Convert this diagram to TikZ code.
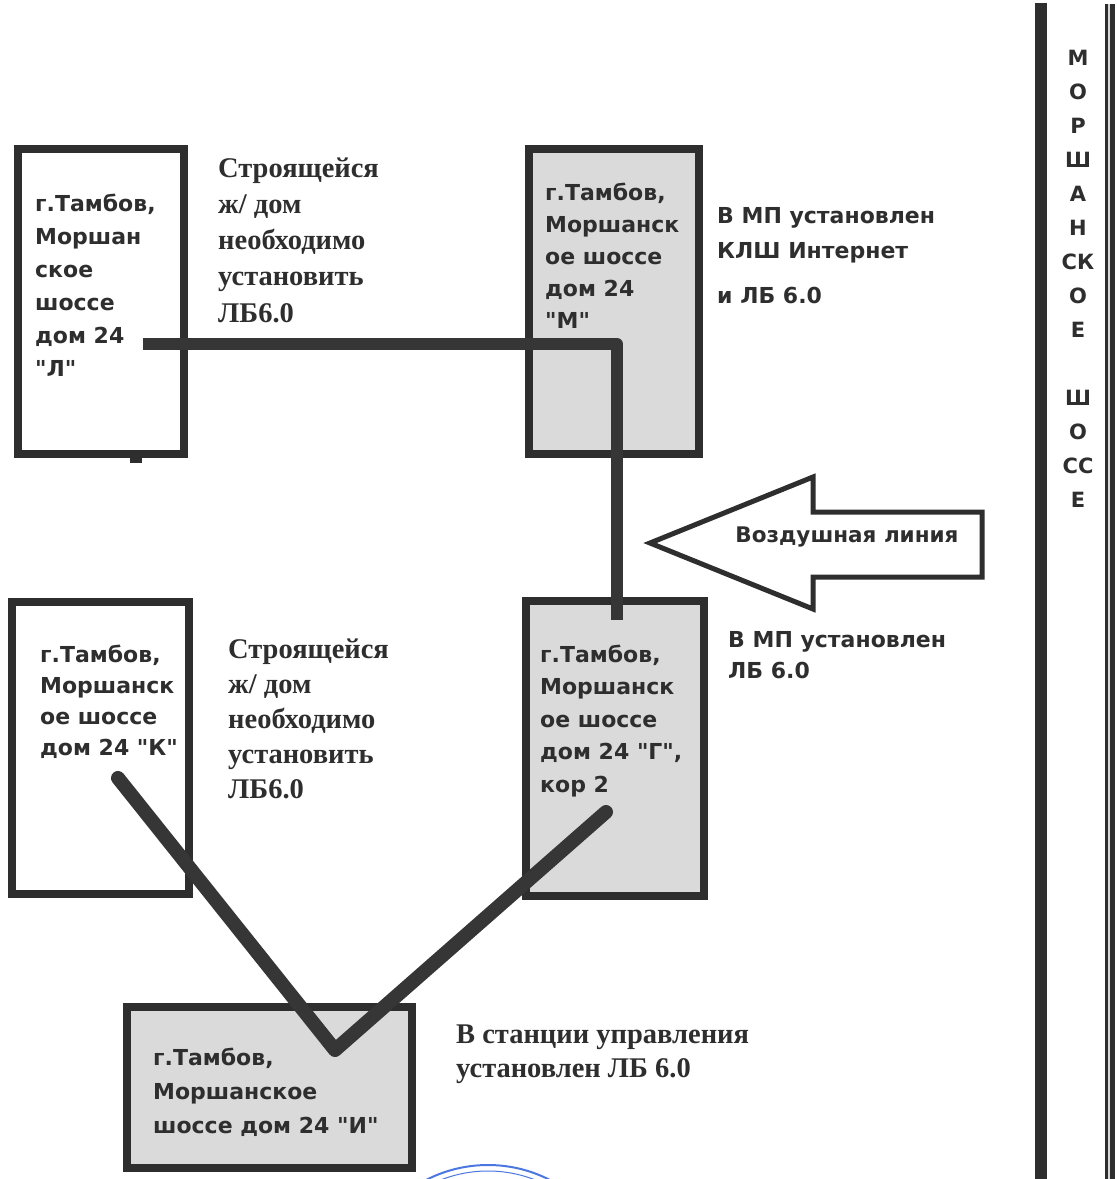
\documentclass[tikz,border=0pt]{standalone}
\usepackage{fontspec}
\newfontfamily\dvs{DejaVu Sans}
\newfontfamily\lsr{Liberation Serif}
\definecolor{ink}{HTML}{2E2E2E}
\definecolor{wirec}{HTML}{363636}
\definecolor{boxgray}{HTML}{DADADA}
\definecolor{stampblue}{HTML}{4A78E0}
\newcommand{\rows}[1]{\begin{tabular}[t]{@{}l@{}}#1\end{tabular}}
\newcommand{\crows}[1]{\begin{tabular}[t]{@{}c@{}}#1\end{tabular}}
\begin{document}
\begin{tikzpicture}[x=1pt,y=-1pt,
  box/.style={draw=ink, line width=8pt, rectangle, inner sep=0pt, outer sep=0pt},
  whitebox/.style={box, fill=white},
  graybox/.style={box, fill=boxgray},
  sans/.style={anchor=base west, inner sep=0pt, text=ink, font=\dvs\bfseries\fontsize{22}{#1}\selectfont},
  sans/.default=32.5,
  serif/.style={anchor=base west, inner sep=0pt, text=ink, font=\lsr\bfseries\fontsize{28.5}{#1}\selectfont},
  serif/.default=36,
  wire/.style={draw=wirec, line width=12pt, line join=round},
]
\useasboundingbox (0,0) rectangle (1117,1179);
\fill[white] (0,0) rectangle (1117,1179);

% stamp fragment
\begin{scope}
\clip (0,0) rectangle (1117,1179);
\draw[stampblue, line width=2pt] (488,1300) circle (135);
\draw[stampblue, line width=1pt] (488,1300) circle (129);
\end{scope}

% road lines
\draw[ink, line width=12pt] (1041,3) -- (1041,1179);
\draw[ink, line width=10pt] (1110,4) -- (1110,1179);
\draw[white!70!gray, line width=1.2pt] (1109,4) -- (1109,1179);

% boxes
\node[whitebox, minimum width=166pt, minimum height=305pt] (L) at (101,301.5) {};
\fill[ink] (130,456) rectangle (142,463);
\node[graybox, minimum width=170pt, minimum height=305pt] (M) at (614,301.5) {};
\node[whitebox, minimum width=177pt, minimum height=292pt] (K) at (100.5,748) {};
\node[graybox, minimum width=178pt, minimum height=295pt] (G) at (615,748.5) {};
\node[graybox, minimum width=285pt, minimum height=161pt] (I) at (269.5,1087.5) {};

% connectors
\coordinate (wLs) at (143,344);
\coordinate (wBend) at (617,344);
\coordinate (wGe) at (617,620);
\draw[wire] (wLs) -- (wBend) -- (wGe);
\coordinate (vK) at (118,778);
\coordinate (vI) at (335,1050);
\coordinate (vG) at (606,812);
\draw[wire, line width=14pt, line cap=round] (vK) -- (vI) -- (vG);

% air-line arrow
\draw[draw=ink, line width=5pt, fill=white, line join=miter]
  (650,543) -- (813,477) -- (813,512) -- (982,512) -- (982,577) -- (813,577) -- (813,609) -- cycle;
\node[anchor=base, inner sep=0pt, text=ink, font=\dvs\bfseries\fontsize{21.5}{24}\selectfont] (air) at (847,542) {Воздушная линия};

% box texts
\node[sans=33] (tL) at (35,211) {\rows{г.Тамбов,\\Моршан\\ское\\шоссе\\дом 24\\"Л"}};
\node[sans=32] (tM) at (545,200) {\rows{г.Тамбов,\\Моршанск\\ое шоссе\\дом 24\\"М"}};
\node[sans=31] (tK) at (40,662) {\rows{г.Тамбов,\\Моршанск\\ое шоссе\\дом 24 "К"}};
\node[sans=32.5] (tG) at (540,662) {\rows{г.Тамбов,\\Моршанск\\ое шоссе\\дом 24 "Г",\\кор 2}};
\node[sans=34] (tI) at (153,1065) {\rows{г.Тамбов,\\Моршанское\\шоссе дом 24 "И"}};

% side notes
\node[serif=36.25] (nL) at (218,177) {\rows{Строящейся\\ж/ дом\\необходимо\\установить\\ЛБ6.0}};
\node[serif=35] (nK) at (228,658) {\rows{Строящейся\\ж/ дом\\необходимо\\установить\\ЛБ6.0}};
\node[serif=34] (nI) at (456,1043) {\rows{В станции управления\\установлен ЛБ 6.0}};
\node[sans=35] (nM) at (717,223) {\rows{В МП установлен\\КЛШ Интернет\\[10pt]и ЛБ 6.0}};
\node[sans=31] (nG) at (728,647) {\rows{В МП установлен\\ЛБ 6.0}};

% street name
\node[anchor=base, inner sep=0pt, text=ink, font=\dvs\bfseries\fontsize{21}{34}\selectfont] (street) at (1078,65)
  {\crows{М\\О\\Р\\Ш\\А\\Н\\СК\\О\\Е\\ \\Ш\\О\\СС\\Е}};
\end{tikzpicture}
\end{document}
